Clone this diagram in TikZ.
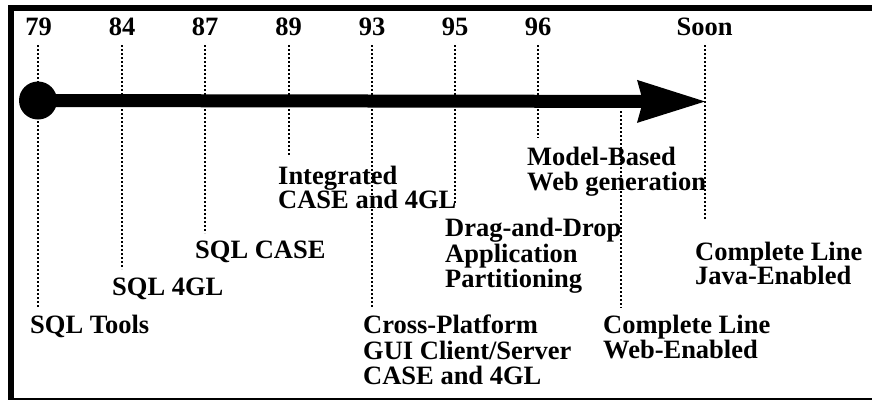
\documentclass[tikz,border=0pt]{standalone}
\usepackage{fontspec}
\setmainfont{Liberation Serif}
\usetikzlibrary{arrows.meta}
\begin{document}
\begin{tikzpicture}[x=1pt,y=-1pt,
  lbl/.style={anchor=base west,inner sep=0pt,font=\fontsize{26.5}{24.5}\selectfont\bfseries},
  yearlbl/.style={anchor=base,inner sep=0pt,font=\fontsize{26.5}{24.5}\selectfont\bfseries},
  guide/.style={line width=1.8pt,dash pattern=on 1.8pt off 2.2pt},
  frame/.style={fill=black}]
\useasboundingbox (0,0) rectangle (872,400);
% frame
\fill[frame] (8,5) rectangle (872,11);
\fill[frame] (8,5) rectangle (14,400);
\fill[frame] (8,397.8) rectangle (872,400);
% year labels
\foreach \n/\x/\t in {79/38.5/79,84/122/84,87/205/87,89/288.5/89,93/372/93,95/455/95,96/538/96,soon/704.5/Soon}
  \node[yearlbl] (y\n) at (\x,35) {\t};
% guide lines
\foreach \n/\x/\ya/\yb in {79/38/45/308,84/122/45/269,87/205/45/233,89/289/45/156,93/372/45/308,95/455/45/205,96/538/45/138,web/621/111/308,soon/705/45/220}{
  \coordinate (t\n) at (\x,\ya);
  \coordinate (b\n) at (\x,\yb);
  \draw[guide] (t\n) -- (b\n);
}
% timeline arrow
\node[circle,fill=black,minimum size=38pt,inner sep=0pt] (start) at (38,100.5) {};
\coordinate (tip) at (705,101.5);
\draw[line width=13pt,-{Stealth[length=68pt,width=43pt,inset=6pt,line width=0pt]}] (start.center) -- (tip);
% labels
\node[lbl] (tools) at (30,333) {SQL Tools};
\node[lbl] (fourgl) at (112,295) {SQL 4GL};
\node[lbl] (sqlcase) at (195,258) {SQL CASE};
\node[lbl] (integ1) at (278,184) {Integrated};
\node[lbl] (integ2) at (278,208) {CASE and 4GL};
\node[lbl] (cross1) at (363,333) {Cross-Platform};
\node[lbl] (cross2) at (363,359) {GUI Client/Server};
\node[lbl] (cross3) at (363,384) {CASE and 4GL};
\node[lbl] (drag1) at (445,236) {Drag-and-Drop};
\node[lbl] (drag2) at (445,262) {Application};
\node[lbl] (drag3) at (445,287) {Partitioning};
\node[lbl] (model1) at (527,165) {Model-Based};
\node[lbl] (model2) at (527,190) {Web generation};
\node[lbl] (web1) at (603,333) {Complete Line};
\node[lbl] (web2) at (603,358) {Web-Enabled};
\node[lbl] (java1) at (695,260) {Complete Line};
\node[lbl] (java2) at (695,284) {Java-Enabled};
\end{tikzpicture}
\end{document}
